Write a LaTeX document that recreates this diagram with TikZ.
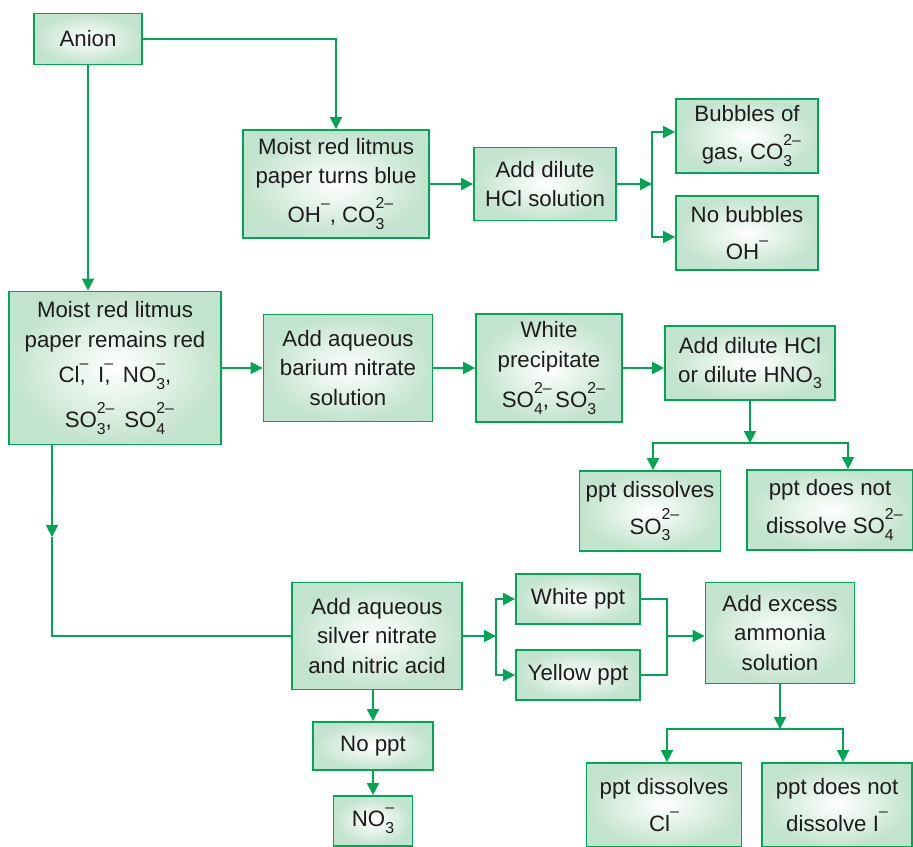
\documentclass[tikz,border=0pt]{standalone}
\usepackage{fontspec}
\setmainfont{Liberation Sans}
\usepackage{xcolor}
\usepackage{tikz}
\usetikzlibrary{positioning, arrows.meta, calc}

\definecolor{flowgreen}{RGB}{0,166,81}
\definecolor{boxgreen}{RGB}{194,227,205}
\definecolor{inkgray}{RGB}{30,27,28}

% charge and index, set high and low as in the print
\newcommand{\supf}[1]{\raisebox{0.64em}{\fontsize{13.5}{13.5}\selectfont #1}}
\newcommand{\subf}[1]{\raisebox{-0.3em}{\fontsize{13.5}{13.5}\selectfont #1}}
\newcommand{\ionf}[3]{#1\rlap{\supf{#3}}\subf{#2}}

\begin{document}
\begin{tikzpicture}[x=0.3mm, y=-0.3mm,
    box/.style={draw=flowgreen, line width=0.55mm, inner color=white, outer color=boxgreen, align=center, text=inkgray, inner sep=0pt, font=\fontsize{19}{25}\selectfont},
    wh/.style 2 args={minimum width=#1*0.3mm, minimum height=#2*0.3mm},
    arr/.style={-{Triangle[length=3.6mm, width=3.6mm]}, line width=0.55mm, draw=flowgreen},
    wire/.style={line width=0.55mm, draw=flowgreen}
]
    \useasboundingbox (0,0) rectangle (913,846);

    \node[box, wh={108}{51}] (anion) at (88,39) {Anion};
    \node[box, wh={186}{108}] (blue) at (336,184) {Moist red litmus\\paper turns blue\\[7pt]OH\supf{--}, \ionf{CO}{3}{2--}};
    \node[box, wh={142}{73}] (hcl) at (545,184) {Add dilute\\HCl solution};
    \node[box, wh={142}{74}] (bubbles) at (747,136) {Bubbles of\\[8pt]gas, \ionf{CO}{3}{2--}};
    \node[box, wh={142}{74}] (nobub) at (747,233) {No bubbles\\[7pt]OH\supf{--}};

    \node[box, wh={212}{153}] (red) at (115,368) {Moist red litmus\\paper remains red\\[5pt]Cl\rlap{\supf{--}},\ \ I\rlap{\supf{--}},\ \ \ionf{NO}{3}{--},\\[10pt]\ionf{SO}{3}{2--},\ \ \ionf{SO}{4}{2--}};
    \node[box, wh={169}{107}] (barium) at (348,368) {Add aqueous\\barium nitrate\\solution};
    \node[box, wh={146}{108}] (white) at (549,368) {White\\precipitate\\[8pt]\ionf{SO}{4}{2--}, \ionf{SO}{3}{2--}};
    \node[box, wh={170}{74}] (acid) at (750,363) {Add dilute HCl\\or dilute HNO\subf{3}};
    \node[box, wh={141}{80}] (dissolve) at (650,511) {ppt dissolves\\[5pt]\ionf{SO}{3}{2--}};
    \node[box, wh={166}{80}] (nodissolve) at (830,510) {ppt does not\\[6pt]dissolve \ionf{SO}{4}{2--}};

    \node[box, wh={170}{107}] (silver) at (377,636) {Add aqueous\\silver nitrate\\and nitric acid};
    \node[box, wh={124}{50}] (wppt) at (578,599) {White ppt};
    \node[box, wh={124}{50}] (yppt) at (578,675) {Yellow ppt};
    \node[box, wh={149}{101}] (ammonia) at (780,633) {Add excess\\ammonia\\solution};
    \node[box, wh={120}{48}] (noppt) at (373,746) {No ppt};
    \node[box, wh={79}{50}] (nitrate) at (373,821) {\ionf{NO}{3}{--}};
    \node[box, wh={155}{84}] (clbox) at (664,805) {ppt dissolves\\[6pt]Cl\supf{--}};
    \node[box, wh={150}{84}] (ibox) at (837,805) {ppt does not\\[6pt]dissolve I\supf{--}};

    \coordinate (j1) at (652,184);
    \coordinate (j2) at (750,443);
    \coordinate (j3) at (52,537);
    \coordinate (j4) at (496,636);
    \coordinate (j5) at (667,636);
    \coordinate (j6) at (780,729);

    % top branch
    \draw[arr] (anion.east) -| (blue.north);
    \draw[arr] (anion.south) -- (anion.south |- red.north);
    \draw[arr] (blue) -- (hcl);
    \draw[arr] (hcl) -- (j1);
    \draw[arr] (j1) |- ([yshift=1.2mm]bubbles.west);
    \draw[arr] (j1) |- ([yshift=-1.2mm]nobub.west);

    % middle branch
    \draw[arr] (red) -- (barium);
    \draw[arr] (barium) -- (white);
    \draw[arr] (white.east) -- (white.east -| acid.west);
    \draw[arr] (acid) -- (j2);
    \draw[arr] (j2) -| (653,0 |- dissolve.north);
    \draw[arr] (j2) -| (848,0 |- nodissolve.north);

    % bottom branch
    \draw[arr] (52,0 |- red.south) -- (j3);
    \draw[wire] (j3) |- (silver.west);
    \draw[arr] (silver) -- (j4);
    \draw[arr] (j4) |- (wppt.west);
    \draw[arr] (j4) |- (yppt.west);
    \draw[wire] (wppt.east) -| (j5);
    \draw[wire] (yppt.east) -| (j5);
    \draw[arr] (j5) -- (j5 -| ammonia.west);
    \draw[arr] (ammonia) -- (j6);
    \draw[arr] (j6) -| (667,0 |- clbox.north);
    \draw[arr] (j6) -| (843,0 |- ibox.north);
    \draw[arr] (noppt |- silver.south) -- (noppt.north);
    \draw[arr] (noppt) -- (nitrate);
\end{tikzpicture}
\end{document}
